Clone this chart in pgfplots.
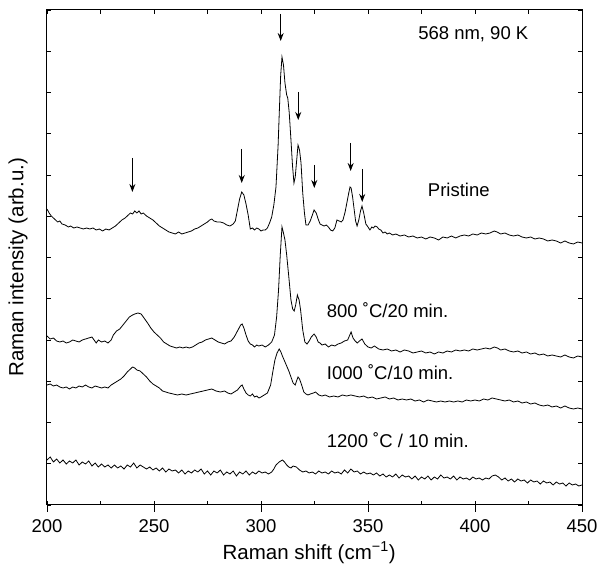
\documentclass[border=0pt]{standalone}
\usepackage{fontspec}
\setmainfont{Liberation Sans}
\usepackage{pgfplots}
\pgfplotsset{compat=1.18}
\usetikzlibrary{arrows.meta}

\newcommand{\lbl}{\fontsize{18.5}{22}\selectfont}
\newcommand{\axl}{\fontsize{20.5}{24}\selectfont}

\pgfplotstableread{
x y
200 296
201 292
202 289
203.5 286
205 283
206 284
207 281
208.5 280
210 278
211 279
212.5 277
214 278
215.5 277
217 276
218.5 277
220 276
221.5 277
223 275
224.5 276
226 274
227.5 276
229 275
230.5 277
232 279
233.5 282
235 285
236.5 287
238 290
239 292
240 291
241 294
242 292
243 294
244 291
245 292
246.5 289
248 287
249.5 285
251 282
252.5 279
254 277
255.5 275
257 273
258.5 272
260 271
261.5 273
263 271
264.5 272
266 273
267.5 274
269 276
270.5 277
272 279
273.5 281
275 283
276 285
277 286
278 284
279.5 283
281 283
282.5 282
284 280
285.5 279
287 281
288 284
289 295
290 306
291 313
292 310
293 301
294 290
295 276
296 277
297 275
298 277
299 276
300 274
301 275
302 275
303 277
304 282
305 288
306 300
307 318
308 360
308.5 390
309.2 430
309.8 448
310.5 440
311.2 422
312 410
312.5 407
313.2 392
314 365
314.7 340
315.4 322
316 328
316.6 343
317.3 360
318 355
318.7 342
319.5 312
320.3 292
321 280
322 280
323 284
324 290
324.8 295
325.8 292
326.7 286
327.6 281
328.5 280
329.5 279
330.5 280
331.5 278
332.5 275
333.5 274
334.5 277
335.5 285
336.5 284
337.5 283
338.3 285
339.3 293
340.2 303
341 312
341.6 318
342.1 317
342.8 308
343.5 296
344.2 284
344.9 279
345.7 285
346.5 294
347.2 299
348 292
349 281
350 278
350.9 275
351.8 278
352.5 277
353.3 279
354.3 278
355 276
356 275
357 272
358 273
359 271
360 272
361.5 270
363 271
365 269
367 270
369 268
371 269
373 267
375 268
377 266
379 268
381 267
383 265
385 268
387 267
389 269
391 267
393 269
395 270
397 269
399 271
401 270
403 272
405 271
407 272
409 274
410.3 273
412 271
414 272
416 270
418 269
420 270
422 268
424 267
426 268
428 266
430 267
432 266
434 264
436 265
438 264
440 262
442 264
444 262
446 261
448 263
450 262
}\pristine

\pgfplotstableread{
x y
200 169
201.5 166
203 167
204.5 164
206 163
207.5 164
209 162
210.5 163
212 165
213.5 164
215 163
216.5 165
218 166
219.5 167
221 168
222 165
223 162
224 165
225.5 163
227 164
228.5 162
230 165
231 170
232.5 174
234 176
235.5 180
237 184
238.5 188
240 190
241 191
242.5 192
244 191
245 188
246 185
247 182
248.5 177
250 173
251.5 170
253 167
254.5 163
256 161
257.5 159
259 158
260.5 157
262 158
263.5 157
265 158
266.5 157
268 158
269.5 160
271 162
272.5 163
274 165
275.5 166
277 167
278.5 165
280 163
281.5 162
283 161
284.5 163
286 164
287.5 168
288.5 172
289.5 176
290.5 180
291.2 181
292 177
293 170
294 164
295 161
296 160
297 158
298 160
299 159
300.5 160
302 158
303.5 160
305 163
306.3 170
307.3 188
308.2 215
309 250
309.8 278
310.5 272
311.2 265
312 250
313 228
314 205
314.8 196
315.5 194
316.2 200
317 210
317.8 205
318.5 195
319.5 175
320.5 163
321.5 161
322.5 164
323.5 168
324.8 171
325.8 168
326.7 163
327.6 162
328.5 160
330 161
331.5 158
333 160
334.5 159
336 161
337.5 162
339 164
340.5 165
341.5 170
342.1 173
343 167
344 164
345 162
346 164
347.2 166
348.5 161
350 158
351.5 157
353 159
355 156
357 155
359 156
361 154
363 155
365 153
367 155
369 154
371 152
373 153
375 154
377 152
379 153
381 151
383 153
385 152
387 154
389 153
391 155
393 154
395 155
397 154
399 156
401 155
403 156
405 157
407 156
409 158
410.5 157
412 155
414 156
416 154
418 153
420 154
422 152
424 153
426 151
428 152
430 150
432 151
434 149
436 150
438 149
440 148
442 150
444 148
446 147
448 149
450 148
}\aeight

\pgfplotstableread{
x y
200 120
201.5 121
203 119
204.5 120
206 118
207.5 117
209 118
210.5 116
212 118
213.5 117
215 119
216.5 118
218 120
219.5 118
221 117
222.5 119
224 118
225.5 117
227 118
228.5 117
230 120
231.5 122
233 124
234.5 126
236 129
237.5 133
239 136
240 138
241 137
242 135
243.5 134
245 131
246.5 128
248 124
249.5 121
251 119
252.5 117
254 114
255.5 113
257 112
259 111
261 110
263 111
265 110
267 111
269 112
271 113
273 114
275 115
277 116
279 114
281 113
283 114
284.5 112
286 111
287.5 113
289 115
290.5 119
291.2 120
292 116
293 112
294 110
295 109
296 111
297 108
298 109
299 107
300 108
301.5 110
303 112
304.5 120
305.5 133
306.5 145
307.5 152
308.5 156
309.3 153
310 149
311 144
312 139
313 134
314 128
315 122
316 120
316.6 124
317.3 128
318 126
319 120
320 113
321 111
322 110
323 111
324.5 112
325.5 113
327 110
328.5 109
330 110
332 108
334 109
336 108
338 110
340 109
342 110
344 109
346 108
348 109
350 107
352 108
354 106
356 107
358 108
360 106
362 107
364 105
366 106
368 105
370 106
372 104
374 105
376 103
378 105
380 104
382 103
384 104
386 103
388 104
390 103
392 104
394 103
396 105
398 104
400 105
402 104
404 106
406 105
408 107
410 106
412 105
414 104
416 105
418 103
420 104
422 102
424 103
426 101
428 102
430 100
432 99
434 100
436 98
438 99
440 97
442 99
444 97
446 96
448 97
450 96
}\athousand

\pgfplotstableread{
x y
200 45
201.5 48
203 43
204.5 46
206 42
207.5 45
209 41
210.5 44
212 42
213.5 45
215 40
216.5 43
218 41
219.5 44
221 39
222.5 42
224 38
225.5 41
227 38
228.5 40
230 37
231.5 40
233 37
234.5 39
236 36
237.5 40
239 38
240.5 42
242 37
243.5 40
245 38
246.5 36
248 38
249.5 35
251 37
252.5 34
254 37
255.5 33
257 36
258.5 34
260 35
261.5 32
263 35
264.5 31
266 34
267.5 32
269 35
270.5 33
272 36
273.5 31
275 34
276.5 30
278 34
279.5 32
281 35
282.5 30
284 33
285.5 31
287 34
288.5 29
290 33
291.5 31
293 34
294.5 30
296 33
297.5 31
299 34
300.5 32
302 33
303.5 31
305 33
306 36
307 40
308.5 43
310 45
311 43
312 40
313 38
314 37
315 39
316.5 38
318 35
319.5 33
321 34
322.5 32
324 33
325.5 31
327 34
328.5 32
330 33
331.5 31
333 34
334.5 32
336 33
337.5 31
339 35
340.5 32
342 36
343.5 33
345 34
346.5 31
348 33
349.5 31
351 32
352.5 30
354 32
355.5 29
357 31
358.5 28
360 30
361.5 28
363 31
364.5 27
366 30
367.5 28
369 29
370.5 26
372 29
373.5 25
375 28
376.5 26
378 29
379.5 25
381 28
382.5 26
384 30
385.5 27
387 28
388.5 26
390 29
391.5 25
393 28
394.5 26
396 27
397.5 25
399 28
400.5 26
402 27
403.5 25
405 27
406.5 26
408 29
409.5 30
411 28
412.5 25
414 27
415.5 24
417 26
418.5 23
420 26
421.5 24
423 25
424.5 22
426 25
427.5 23
429 24
430.5 21
432 24
433.5 22
435 23
436.5 20
438 23
439.5 21
441 22
442.5 19
444 22
445.5 20
447 21
448.5 19
450 20
}\atwelve

\begin{document}
\begin{tikzpicture}
% data axis: inward ticks on all sides
\begin{axis}[
  scale only axis, width=535pt, height=495pt,
  xmin=200, xmax=450, ymin=0, ymax=495,
  xtick={200,225,...,450}, xticklabels={},
  ytick={0,41.25,...,495}, yticklabels={},
  tick align=inside, major tick length=4pt,
  tick style={black, line width=0.8pt},
  axis line style={line width=1pt},
  ylabel={\axl Raman intensity (arb.u.)},
  ylabel style={at={(axis description cs:-0.0542,0.48)}, anchor=center},
  clip=false,
]
\addplot[black, line width=0.8pt] table {\pristine};
\addplot[black, line width=0.8pt] table {\aeight};
\addplot[black, line width=0.8pt] table {\athousand};
\addplot[black, line width=0.8pt] table {\atwelve};

\foreach \xa/\ya/\yb in {239.9/347/313, 291.0/356/322, 309.2/491/464, 317.4/413/385, 324.9/340/317, 341.9/362/334, 347.3/336/303}{
  \edef\tmp{\noexpand\draw[line width=1pt, -{Stealth[length=8pt,width=6pt]}] (axis cs:\xa,\ya) -- (axis cs:\xa,\yb);}
  \tmp
}

\node[anchor=west, inner sep=0pt] at (axis cs:373.4,471) {\lbl 568 nm, 90 K};
\node[anchor=west, inner sep=0pt] at (axis cs:377.9,315) {\lbl Pristine};
\node[anchor=west, inner sep=0pt] at (axis cs:330.7,195) {\lbl 800 ˚C/20 min.};
\node[anchor=west, inner sep=0pt] at (axis cs:330.7,133) {\lbl I000 ˚C/10 min.};
\node[anchor=west, inner sep=0pt] at (axis cs:330.7,65) {\lbl 1200 ˚C / 10 min.};

\coordinate (sw) at (rel axis cs:0,0);
\coordinate (ne) at (rel axis cs:1,1);
\end{axis}
% labelled axis: outward major ticks at the bottom
\begin{axis}[
  scale only axis, width=535pt, height=495pt,
  xmin=200, xmax=450, ymin=0, ymax=495,
  xtick={200,250,...,450}, ytick=\empty,
  xtick pos=left, tick align=outside, major tick length=7pt,
  tick style={black, line width=0.8pt},
  axis line style={draw=none},
  /pgf/number format/assume math mode=true,
  xticklabel style={font=\lbl, yshift=-4pt},
  xlabel={\axl Raman shift (cm\textsuperscript{−1})},
  xlabel style={at={(axis description cs:0.49,-0.1091)}, anchor=base},
]
\end{axis}
\pgfresetboundingbox
\path[use as bounding box] ([shift={(-47pt,-59pt)}]sw) rectangle ([shift={(17pt,10pt)}]ne);
\end{tikzpicture}
\end{document}
